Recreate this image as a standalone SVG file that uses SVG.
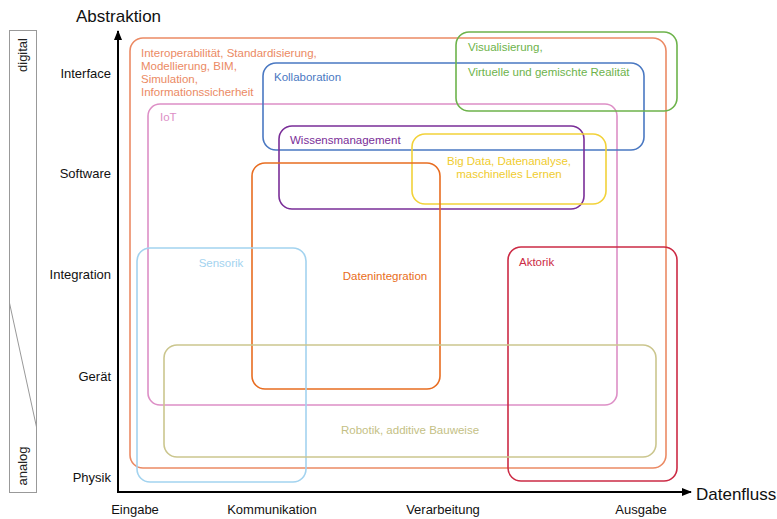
<svg xmlns="http://www.w3.org/2000/svg" width="777" height="519" viewBox="0 0 777 519">
<style>
text{font-family:"Liberation Sans",Arial,sans-serif;}
.box{fill:none;stroke-width:1.6;}
.lbl{font-size:11.5px;}
.ax{font-size:13px;fill:#111;}
.big{font-size:17px;fill:#111;}
</style>
<defs>
<marker id="arr" viewBox="0 0 10 10" refX="9" refY="5" markerWidth="10" markerHeight="10" markerUnits="userSpaceOnUse" orient="auto">
<path d="M0,1 L10,5 L0,9 z" fill="#000"/>
</marker>
</defs>
<rect width="777" height="519" fill="#fff"/>
<g id="scale-bar">
<rect x="9.5" y="30.5" width="27" height="462" fill="none" stroke="#999" stroke-width="1"/>
<line x1="9.5" y1="303" x2="36.5" y2="427" stroke="#999" stroke-width="1"/>
<text transform="translate(27,55) rotate(-90)" text-anchor="middle" style="font-size:13px;fill:#222">digital</text>
<text transform="translate(27,466) rotate(-90)" text-anchor="middle" style="font-size:13px;fill:#222">analog</text>
</g>
<g id="axes">
<line x1="118" y1="492" x2="118" y2="31" stroke="#000" stroke-width="2" marker-end="url(#arr)"/>
<line x1="117" y1="492" x2="691" y2="492" stroke="#000" stroke-width="2" marker-end="url(#arr)"/>
<text class="big" x="76" y="22">Abstraktion</text>
<text class="big" x="696" y="500">Datenfluss</text>
<text class="ax" x="111" y="78" text-anchor="end">Interface</text>
<text class="ax" x="111" y="178" text-anchor="end">Software</text>
<text class="ax" x="111" y="279" text-anchor="end">Integration</text>
<text class="ax" x="111" y="381" text-anchor="end">Gerät</text>
<text class="ax" x="111" y="482" text-anchor="end">Physik</text>
<text class="ax" x="135" y="514" text-anchor="middle">Eingabe</text>
<text class="ax" x="272" y="514" text-anchor="middle">Kommunikation</text>
<text class="ax" x="443" y="514" text-anchor="middle">Verarbeitung</text>
<text class="ax" x="641" y="514" text-anchor="middle">Ausgabe</text>
</g>
<g id="interoperabilitaet">
<rect class="box" x="130" y="38" width="536" height="430" rx="13" stroke="#eb8a64"/>
<text class="lbl" fill="#eb8a64"><tspan x="141" y="57">Interoperabilität, Standardisierung,</tspan><tspan x="141" y="70">Modellierung, BIM,</tspan><tspan x="141" y="83">Simulation,</tspan><tspan x="141" y="96">Informationssicherheit</tspan></text>
</g>
<g id="iot">
<rect class="box" x="148" y="104" width="469" height="301" rx="12" stroke="#dd8fc6"/>
<text class="lbl" x="160" y="121" fill="#dd8fc6">IoT</text>
</g>
<g id="kollaboration">
<rect class="box" x="263" y="63" width="381" height="87" rx="13" stroke="#4a78c2"/>
<text class="lbl" x="274" y="81" fill="#4a78c2">Kollaboration</text>
</g>
<g id="visualisierung">
<rect class="box" x="456" y="32" width="221" height="79" rx="13" stroke="#6db34b"/>
<text class="lbl" fill="#6db34b"><tspan x="468" y="51">Visualisierung,</tspan><tspan x="468" y="76">Virtuelle und gemischte Realität</tspan></text>
</g>
<g id="wissensmanagement">
<rect class="box" x="279" y="126" width="305" height="83" rx="13" stroke="#7a2e98"/>
<text class="lbl" x="290" y="144" fill="#7a2e98">Wissensmanagement</text>
</g>
<g id="bigdata">
<rect class="box" x="412" y="134" width="194" height="70" rx="13" stroke="#f2d23a"/>
<text class="lbl" text-anchor="middle" fill="#f0cc2e"><tspan x="509" y="165">Big Data, Datenanalyse,</tspan><tspan x="509" y="178">maschinelles Lernen</tspan></text>
</g>
<g id="datenintegration">
<rect class="box" x="252" y="163" width="188" height="226" rx="13" stroke="#e86d21"/>
<text class="lbl" x="385" y="280" text-anchor="middle" fill="#e86d21">Datenintegration</text>
</g>
<g id="sensorik">
<rect class="box" x="137" y="248" width="169" height="234" rx="13" stroke="#a3d3ef"/>
<text class="lbl" x="221" y="267" text-anchor="middle" fill="#a3d3ef">Sensorik</text>
</g>
<g id="aktorik">
<rect class="box" x="508" y="247" width="169" height="234" rx="13" stroke="#cc2b45"/>
<text class="lbl" x="519" y="266" fill="#cc2b45">Aktorik</text>
</g>
<g id="robotik">
<rect class="box" x="164" y="345" width="492" height="112" rx="13" stroke="#cbc68e"/>
<text class="lbl" x="410" y="434" text-anchor="middle" fill="#c4bf85">Robotik, additive Bauweise</text>
</g>
</svg>
